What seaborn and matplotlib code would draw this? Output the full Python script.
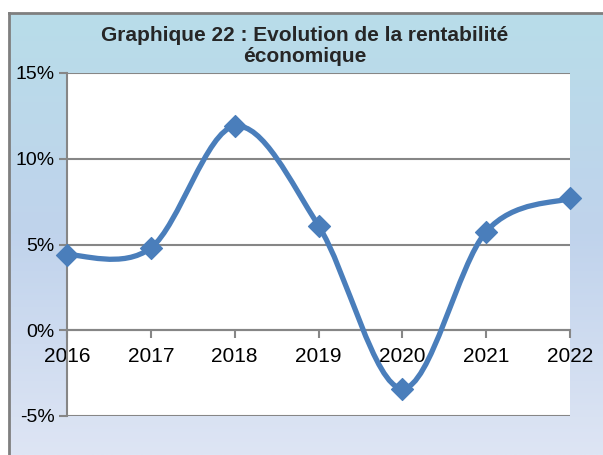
import numpy as np
import pandas as pd
import matplotlib
matplotlib.use("Agg")
import matplotlib.pyplot as plt
from matplotlib.path import Path
from matplotlib.patches import PathPatch
from matplotlib.colors import LinearSegmentedColormap
import seaborn as sns

years = [2016, 2017, 2018, 2019, 2020, 2021, 2022]
rentabilite = [4.4, 4.8, 11.9, 6.1, -3.4, 5.75, 7.7]
y_ticks = [-5, 0, 5, 10, 15]
title = "Graphique 22 : Evolution de la rentabilité\néconomique"

df = pd.DataFrame({"annee": years, "rentabilite": rentabilite})

sns.set_style("white")
plt.rcParams['font.family'] = ['Liberation Sans', 'DejaVu Sans']

line_col = "#4a7ebb"
grid_col = "#868686"

fig = plt.figure(figsize=(6.03, 4.55), dpi=100)

# gradient background frame
bg = fig.add_axes([9 / 603, 0, 1 - 9 / 603, 1 - 13 / 455])
cmap = LinearSegmentedColormap.from_list("bg", ["#b8dde9", "#c0d3ec", "#dee5f4"])
bg.imshow(np.linspace(0, 1, 256).reshape(-1, 1), aspect="auto", cmap=cmap,
          extent=[0, 1, 0, 1])
bg.set_xlim(0, 1)
bg.set_ylim(0, 1)
bg.set_xticks([])
bg.set_yticks([])
for s in ["right", "bottom"]:
    bg.spines[s].set_visible(False)
for s in ["left", "top"]:
    bg.spines[s].set_color("#7f7f7f")
    bg.spines[s].set_linewidth(2)

fig.text(0.505, 0.899, title, ha="center", va="center", fontsize=15,
         fontweight="bold", linespacing=1.1)

ax = fig.add_axes([67 / 603, 39 / 455, 503 / 603, 343 / 455])
ax.set_facecolor("white")

x = df["annee"].to_numpy(dtype=float)
y = df["rentabilite"].to_numpy(dtype=float)

# smoothed line (Excel-like cubic Bezier through the points)
verts = [(x[0], y[0])]
codes = [Path.MOVETO]
n = len(x)
for i in range(n - 1):
    p0 = np.array([x[max(i - 1, 0)], y[max(i - 1, 0)]])
    p1 = np.array([x[i], y[i]])
    p2 = np.array([x[i + 1], y[i + 1]])
    p3 = np.array([x[min(i + 2, n - 1)], y[min(i + 2, n - 1)]])
    c1 = p1 + (p2 - p0) / 6
    c2 = p2 - (p3 - p1) / 6
    verts += [tuple(c1), tuple(c2), tuple(p2)]
    codes += [Path.CURVE4] * 3
ax.add_patch(PathPatch(Path(verts, codes), facecolor="none", edgecolor=line_col,
                       lw=3.8, zorder=3, capstyle="round", joinstyle="round"))

sns.scatterplot(data=df, x="annee", y="rentabilite", marker="D", s=125,
                color=line_col, edgecolor=line_col, ax=ax, zorder=4, clip_on=False)

ax.set_xlim(2016, 2022)
ax.set_ylim(-5, 15)
ax.set_xlabel("")
ax.set_ylabel("")

for v in y_ticks:
    ax.axhline(v, color=grid_col, lw=1.5, zorder=1)

ax.spines["bottom"].set_position(("data", 0))
ax.spines["bottom"].set_color(grid_col)
ax.spines["bottom"].set_linewidth(1.5)
ax.spines["left"].set_color(grid_col)
ax.spines["left"].set_linewidth(1.5)
ax.spines["top"].set_visible(False)
ax.spines["right"].set_visible(False)

ax.set_yticks(y_ticks)
ax.set_yticklabels([f"{v}%" for v in y_ticks])
ax.set_xticks(years)
ax.set_xticklabels([str(v) for v in years])

ax.tick_params(axis="y", direction="out", length=6, width=1.5, color=grid_col,
               pad=3, left=True, labelsize=14, labelcolor="black")
ax.tick_params(axis="x", direction="out", length=6, width=1.5, color=grid_col,
               pad=6, bottom=True, labelsize=15, labelcolor="black")

fig.savefig("out.png", dpi=100)
